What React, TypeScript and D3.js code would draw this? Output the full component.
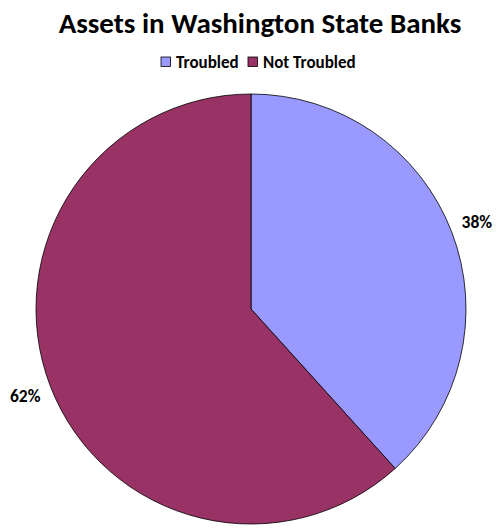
import { useMemo } from "react";
import * as d3 from "d3";

const WIDTH = 500;
const HEIGHT = 530;
const FONT = "Carlito, Lato, 'Open Sans', sans-serif";

const categories = ["Troubled", "Not Troubled"];
const values = [38.3, 61.7];
const colors = ["#9999FF", "#993366"];
const title = "Assets in Washington State Banks";

type Slice = { name: string; value: number; color: string };

export default function App() {
  const cx = 251;
  const cy = 309;
  const radius = 215;
  const labelRadius = 242;

  const slices: Slice[] = categories.map((name, i) => ({ name, value: values[i], color: colors[i] }));
  const total = d3.sum(values);

  const arcs = useMemo(() => {
    return d3
      .pie<Slice>()
      .sort(null)
      .value((d) => d.value)(slices);
  }, []);

  const arcGen = d3.arc<d3.PieArcDatum<Slice>>().innerRadius(0).outerRadius(radius);
  const labelArc = d3.arc<d3.PieArcDatum<Slice>>().innerRadius(labelRadius).outerRadius(labelRadius);
  const pct = d3.format(".0%");

  // legend layout: square then label, items next to each other
  const legendX = [161, 248];

  return (
    <svg
      width={WIDTH}
      height={HEIGHT}
      style={{ position: "absolute", left: 0, top: 0, background: "#fff" }}
      fontFamily={FONT}
    >
      <text x={260} y={33} textAnchor="middle" fontSize={29} fontWeight="bold" fill="#000">
        {title}
      </text>

      <g>
        {slices.map((s, i) => (
          <g key={s.name} transform={`translate(${legendX[i]},57)`}>
            <rect width={9.5} height={9.5} fill={s.color} stroke="#000" strokeWidth={0.8} />
            <text x={15} y={10.5} fontSize={17} fontWeight="bold" fill="#000">
              {s.name}
            </text>
          </g>
        ))}
      </g>

      <g transform={`translate(${cx},${cy})`}>
        {arcs.map((a) => (
          <path key={a.data.name} d={arcGen(a) ?? ""} fill={a.data.color} stroke="#000" strokeWidth={0.8} />
        ))}
        {arcs.map((a) => {
          const [x, y] = labelArc.centroid(a);
          return (
            <text
              key={a.data.name}
              x={x}
              y={y}
              textAnchor="middle"
              dominantBaseline="central"
              fontSize={17.5}
              fontWeight="bold"
              fill="#000"
            >
              {pct(a.data.value / total)}
            </text>
          );
        })}
      </g>
    </svg>
  );
}
